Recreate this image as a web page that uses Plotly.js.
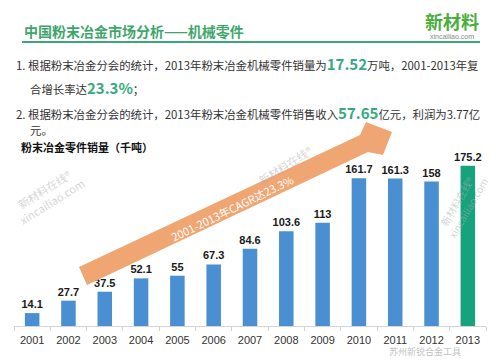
<!DOCTYPE html>
<html>
<head>
<meta charset="utf-8">
<script src="https://cdn.plot.ly/plotly-3.0.1.min.js"></script>
<style>html,body{margin:0;padding:0;background:#fff;}#chart{width:500px;height:360px;}</style>
</head>
<body>
<div id="chart"></div>
<script>
// ---- data ----
var years = ['2001','2002','2003','2004','2005','2006','2007','2008','2009','2010','2011','2012','2013'];
var sales = [14.1, 27.7, 37.5, 52.1, 55, 67.3, 84.6, 103.6, 113, 161.7, 161.3, 158, 175.2];
var barColors = ['#4a8fd1','#4a8fd1','#4a8fd1','#4a8fd1','#4a8fd1','#4a8fd1','#4a8fd1','#4a8fd1','#4a8fd1','#4a8fd1','#4a8fd1','#4a8fd1','#16a27c'];
var titleText = '中国粉末冶金市场分析——机械零件';
var chartTitle = '粉末冶金零件销量（千吨）';
var arrowText = '2001-2013年CAGR达23.3%';

// ---- layout helpers (pixel -> paper) ----
var W = 500, H = 360, ML = 14, MR = 14, MT = 160, MB = 34;
var PW = W - ML - MR, PH = H - MT - MB;
function px(X){ return (X - ML) / PW; }
function py(Y){ return (H - MB - Y) / PH; }

var CJK = 'Noto Sans CJK SC, Liberation Sans, sans-serif';
var LAT = 'Liberation Sans, Noto Sans CJK SC, sans-serif';
var green = '#35a97f';

var trace = {
  type: 'bar',
  x: years,
  y: sales,
  marker: {color: barColors},
  texttemplate: '<b>%{y}</b>',
  textposition: 'outside',
  constraintext: 'none',
  textfont: {family: LAT, size: 11, color: '#1a1a1a'},
  cliponaxis: false,
  hoverinfo: 'none'
};

// arrow polygon (pixel coords)
var arrowPts = [[87,285],[79,267],[360,135],[366,122],[392,132],[383,155],[368,152]];
var path = arrowPts.map(function(p,i){ return (i===0?'M':'L') + px(p[0]).toFixed(4) + ',' + py(p[1]).toFixed(4); }).join(' ') + ' Z';

function ann(X, Y, text, opts){
  var a = {xref:'paper', yref:'paper', x:px(X), y:py(Y), text:text, showarrow:false,
           xanchor:'left', yanchor:'middle', font:{family:CJK, size:11, color:'#333'}};
  for (var k in opts) a[k] = opts[k];
  return a;
}

var wm = 'rgba(175,175,175,0.55)';
var bodyFont = {family:CJK, size:11.4, color:'#333'};
var annotations = [
  // watermarks
  ann(48, 195, '新材料在线®<br>xincailiao.com', {xanchor:'center', textangle:-32, font:{family:CJK, size:11, color:wm}}),
  ann(285, 165, '新材料在线®', {xanchor:'center', textangle:-32, font:{family:CJK, size:11, color:wm}}),
  ann(462, 205, '新材料在线®<br>xincailiao.com', {xanchor:'center', textangle:-60, font:{family:CJK, size:10, color:wm}}),
  ann(425, 351, '苏州新锐合金工具', {xanchor:'center', font:{family:CJK, size:9, color:'rgba(150,150,150,0.6)'}}),
  // header
  ann(22, 31, '<b>' + titleText + '</b>', {font:{family:CJK, size:14, color:'#3fa66b'}}),
  ann(452, 21, '<b>新材料</b>', {xanchor:'center', font:{family:CJK, size:18, color:'#4cae3c'}}),
  ann(452, 36, 'xincailiao.com', {xanchor:'center', font:{family:LAT, size:7, color:'#888'}}),
  // body text
  ann(14, 63, '1. 根据粉末冶金分会的统计，2013年粉末冶金机械零件销量为<span style="font-size:15px;color:' + green + '"><b>17.52</b></span>万吨，2001-2013年复', {font:bodyFont}),
  ann(28, 87, '合增长率达<span style="font-size:15px;color:' + green + '"><b>23.3%</b></span>；', {font:bodyFont}),
  ann(14, 112, '2. 根据粉末冶金分会的统计，2013年粉末冶金机械零件销售收入<span style="font-size:15px;color:' + green + '"><b>57.65</b></span>亿元，利润为3.77亿', {font:bodyFont}),
  ann(28, 130, '元。', {font:bodyFont}),
  ann(19, 147, '<b>' + chartTitle + '</b>', {font:{family:CJK, size:11, color:'#111'}}),
  // arrow label
  ann(232, 208, arrowText, {xanchor:'center', textangle:-26, font:{family:CJK, size:11, color:'#ffffff'}})
];

var shapes = [
  {type:'line', xref:'paper', yref:'paper', x0:px(22), x1:px(480), y0:py(42), y1:py(42), line:{color:'#3aa878', width:2}},
  {type:'path', xref:'paper', yref:'paper', path:path, fillcolor:'#f0a673', line:{width:0}, layer:'above'}
];

var layout = {
  width: W, height: H,
  margin: {l:ML, r:MR, t:MT, b:MB, pad:0},
  paper_bgcolor: '#fff', plot_bgcolor: '#fff',
  showlegend: false,
  bargap: 0.6,
  xaxis: {type:'category', showline:true, linecolor:'#d4d4d4', linewidth:1,
          ticks:'outside', tickson:'boundaries', ticklen:4, tickcolor:'#d4d4d4',
          ticklabelstandoff: 4,
          tickfont:{family:LAT, size:11, color:'#333'}, showgrid:false, zeroline:false, fixedrange:true},
  yaxis: {range:[0, 181.6], visible:false, showgrid:false, zeroline:false, fixedrange:true},
  annotations: annotations,
  shapes: shapes
};

Plotly.newPlot('chart', [trace], layout, {staticPlot:true, displayModeBar:false});
</script>
</body>
</html>
